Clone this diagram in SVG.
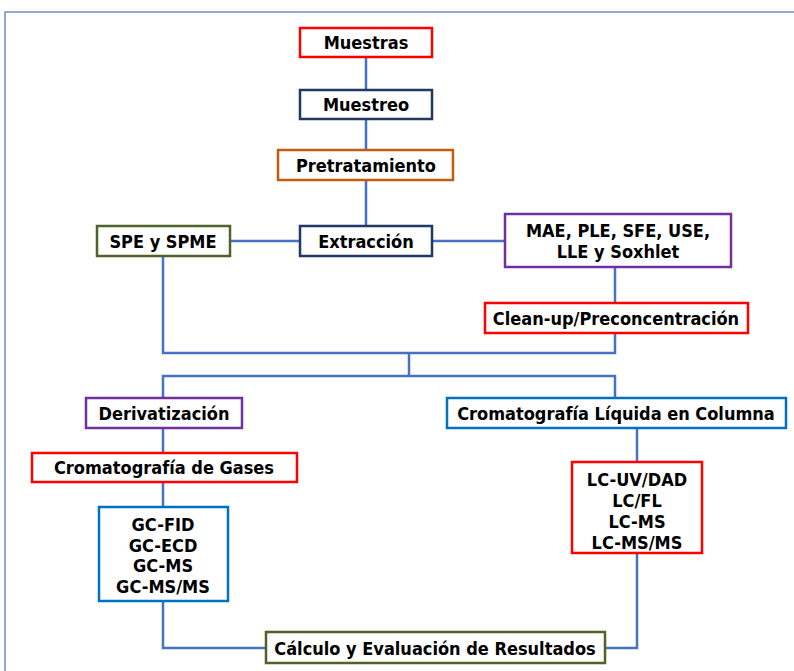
<svg xmlns="http://www.w3.org/2000/svg" width="794" height="671" viewBox="0 0 794 671">
<style>
.box{fill:#fff;stroke-width:2.5}
.t{font-family:"DejaVu Sans Condensed","DejaVu Sans",sans-serif;font-weight:bold;font-size:18px;fill:#000;text-anchor:middle}
.c{fill:none;stroke:#4472c4;stroke-width:2.5}
</style>
<rect x="0" y="0" width="794" height="671" fill="#fff"/>
<rect x="5" y="12" width="800" height="700" fill="none" stroke="#6f8fc9" stroke-width="1.5"/>
<g id="connectors">
<path class="c" d="M366,57V90M366,119V150M366,180V226M230,241H300M432,241H505M615,267V303M163,256V353H615V333M409,353V376M163,398V376H615V398M163,428V453M163,482V507M637,428V462M163,601V648H266M637,553V648H605"/>
</g>
<g id="muestras"><rect class="box" x="300" y="28" width="132" height="29" stroke="#ff0000"/><text class="t" x="366" y="49">Muestras</text></g>
<g id="muestreo"><rect class="box" x="300" y="90" width="132" height="29" stroke="#1f3864"/><text class="t" x="366" y="111">Muestreo</text></g>
<g id="pretratamiento"><rect class="box" x="278" y="150" width="175" height="30" stroke="#c55a11"/><text class="t" x="366" y="172">Pretratamiento</text></g>
<g id="extraccion"><rect class="box" x="300" y="226" width="132" height="30" stroke="#1f3864"/><text class="t" x="366" y="248">Extracción</text></g>
<g id="spe"><rect class="box" x="97" y="226" width="133" height="30" stroke="#4f6228"/><text class="t" x="163" y="248">SPE y SPME</text></g>
<g id="mae"><rect class="box" x="505" y="214" width="226" height="53" stroke="#7030a0"/><text class="t" x="618" y="237">MAE, PLE, SFE, USE,</text><text class="t" x="618" y="258">LLE y Soxhlet</text></g>
<g id="cleanup"><rect class="box" x="485" y="303" width="263" height="30" stroke="#ff0000"/><text class="t" x="616" y="325">Clean-up/Preconcentración</text></g>
<g id="derivatizacion"><rect class="box" x="86" y="398" width="156" height="30" stroke="#7030a0"/><text class="t" x="164" y="420">Derivatización</text></g>
<g id="clc"><rect class="box" x="447" y="398" width="339" height="30" stroke="#0070c0"/><text class="t" x="616" y="420">Cromatografía Líquida en Columna</text></g>
<g id="gases"><rect class="box" x="32" y="453" width="265" height="29" stroke="#ff0000"/><text class="t" x="164" y="474">Cromatografía de Gases</text></g>
<g id="gc"><rect class="box" x="99" y="507" width="129" height="94" stroke="#0070c0"/><text class="t" x="163" y="531">GC-FID</text><text class="t" x="163" y="552">GC-ECD</text><text class="t" x="163" y="572">GC-MS</text><text class="t" x="163" y="593">GC-MS/MS</text></g>
<g id="lc"><rect class="box" x="572" y="462" width="130" height="91" stroke="#ff0000"/><text class="t" x="637" y="486">LC-UV/DAD</text><text class="t" x="637" y="507">LC/FL</text><text class="t" x="637" y="528">LC-MS</text><text class="t" x="637" y="549">LC-MS/MS</text></g>
<g id="calculo"><rect class="box" x="266" y="632" width="339" height="31" stroke="#4f6228"/><text class="t" x="435" y="655">Cálculo y Evaluación de Resultados</text></g>
</svg>
